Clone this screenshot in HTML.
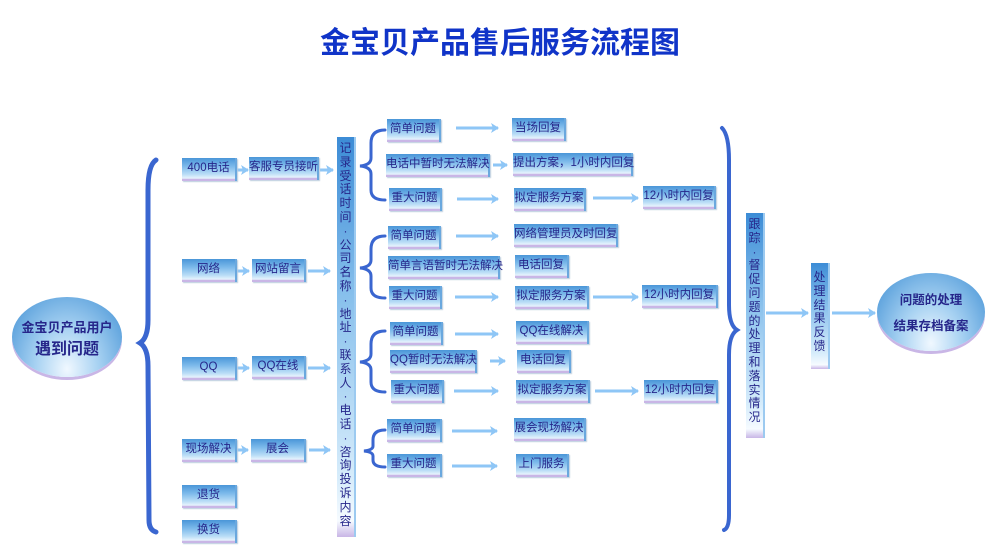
<!DOCTYPE html>
<html><head><meta charset="utf-8"><style>
body{margin:0;width:1000px;height:559px;background:#fff;position:relative;overflow:hidden;font-family:"Liberation Sans","Noto Sans CJK SC",sans-serif}
.t{position:absolute;left:0;top:18px;width:1000px;text-align:center;font-size:30px;font-weight:bold;color:#1034c8;font-family:"Liberation Sans","Noto Sans CJK SC",sans-serif}
.b{position:absolute;box-sizing:border-box;height:23px;background:linear-gradient(to bottom,#4a96d8 0%,#7ab8ea 35%,#b8dcf6 70%,#e6f3fd 88%,#c9b6e6 92%,#c9b6e6 100%);box-shadow:1px 1px 1px #bcd;color:#26268a;font-size:11.5px;line-height:21px;text-align:center;white-space:nowrap;border-right:2px solid #6aa8de}
.v{position:absolute;box-sizing:border-box;width:19px;background:linear-gradient(to bottom,#3c8cd6 0%,#88c0ec 40%,#d6ecfb 85%,#f6fbff 96%,#c9b6e6 100%);border-right:2px solid #9ccaf0;color:#26268a;font-size:12px;text-align:center;padding-top:5px;display:flex;flex-direction:column;align-items:center}
.v span{display:block;height:13.8px;line-height:13.8px;width:17px;text-align:center}
.e{position:absolute;border-radius:50%;background:radial-gradient(ellipse at 50% 90%,#f0f8ff 0%,#a8d2f2 40%,#3f8fd4 100%);box-shadow:0 3px 0 #c9b6e6;color:#26268a;font-weight:bold;text-align:center}
</style></head><body>
<div class="t">金宝贝产品售后服务流程图</div>
<svg width="1000" height="559" style="position:absolute;left:0;top:0">
<defs><marker id="a" markerWidth="8" markerHeight="10" refX="7" refY="5" orient="auto" markerUnits="userSpaceOnUse"><path d="M0,0 L8,5 L0,10 L2,5z" fill="#8ec6f6"/></marker></defs>
<g fill="none" stroke="#3a66d0" stroke-linecap="round">
<path d="M156,160 Q148,165 148,190 L148,320 Q148,338 140,343 Q148,348 148,366 L149,520 Q149,530 156,532" stroke-width="5"/>
<path d="M722,128 Q729,135 729,160 L729,305 Q729,325 737,330 Q729,335 729,355 L729,515 Q729,528 724,530" stroke-width="4"/>
<g stroke-width="3">
<path d="M385,130 Q371,130 371,143 L371,158 Q371,165 360,166 Q371,167 371,174 L371,190 Q371,200 385,200"/>
<path d="M385,236 Q371,236 371,249 L371,260 Q371,267 360,268 Q371,269 371,276 L371,288 Q371,298 385,298"/>
<path d="M385,331 Q371,331 371,344 L371,354 Q371,361 360,362 Q371,363 371,370 L371,382 Q371,392 385,392"/>
<path d="M385,430 Q373,430 373,440 L373,446 Q373,450 364,451 Q373,452 373,456 L373,460 Q373,467 385,467"/>
</g></g>
<g stroke="#8ec6f6" stroke-width="3" marker-end="url(#a)">
<line x1="237" y1="170" x2="248" y2="170"/><line x1="320" y1="170" x2="333" y2="170"/>
<line x1="237" y1="271" x2="249" y2="271"/><line x1="308" y1="271" x2="330" y2="271"/>
<line x1="237" y1="368" x2="249" y2="368"/><line x1="308" y1="368" x2="330" y2="368"/>
<line x1="237" y1="450" x2="248" y2="450"/><line x1="309" y1="450" x2="330" y2="450"/>
<line x1="456" y1="128" x2="498" y2="128"/><line x1="493" y1="165" x2="507" y2="165"/>
<line x1="457" y1="199" x2="498" y2="199"/><line x1="593" y1="198" x2="638" y2="198"/>
<line x1="456" y1="236" x2="498" y2="236"/>
<line x1="455" y1="297" x2="498" y2="297"/><line x1="593" y1="297" x2="638" y2="297"/>
<line x1="455" y1="334" x2="498" y2="334"/><line x1="490" y1="361" x2="505" y2="361"/>
<line x1="454" y1="391" x2="498" y2="391"/><line x1="595" y1="391" x2="638" y2="391"/>
<line x1="452" y1="431" x2="497" y2="431"/><line x1="452" y1="466" x2="497" y2="466"/>
<line x1="766" y1="313" x2="808" y2="313"/><line x1="832" y1="313" x2="875" y2="313"/>
</g></svg>

<div class="e" style="left:12px;top:297px;width:110px;height:80px;font-size:13px;padding-top:20px;box-sizing:border-box;line-height:22px">金宝贝产品用户<br><span style="font-size:16px">遇到问题</span></div>
<div class="e" style="left:877px;top:273px;width:108px;height:78px;font-size:12.5px;padding-top:14px;box-sizing:border-box;line-height:26px">问题的处理<br>结果存档备案</div>

<div class="b" style="left:182px;top:158px;width:55px">400电话</div>
<div class="b" style="left:249px;top:157px;width:70px">客服专员接听</div>
<div class="b" style="left:182px;top:259px;width:55px">网络</div>
<div class="b" style="left:252px;top:259px;width:54px">网站留言</div>
<div class="b" style="left:182px;top:357px;width:55px">QQ</div>
<div class="b" style="left:252px;top:356px;width:54px">QQ在线</div>
<div class="b" style="left:182px;top:439px;width:55px">现场解决</div>
<div class="b" style="left:251px;top:439px;width:55px">展会</div>
<div class="b" style="left:182px;top:485px;width:55px">退货</div>
<div class="b" style="left:182px;top:520px;width:55px">换货</div>

<div class="v" style="left:337px;top:137px;height:400px"><span>记</span><span>录</span><span>受</span><span>话</span><span>时</span><span>间</span><span>·</span><span>公</span><span>司</span><span>名</span><span>称</span><span>·</span><span>地</span><span>址</span><span>·</span><span>联</span><span>系</span><span>人</span><span>·</span><span>电</span><span>话</span><span>·</span><span>咨</span><span>询</span><span>投</span><span>诉</span><span>内</span><span>容</span></div>
<div class="v" style="left:746px;top:213px;height:225px"><span>跟</span><span>踪</span><span>·</span><span>督</span><span>促</span><span>问</span><span>题</span><span>的</span><span>处</span><span>理</span><span>和</span><span>落</span><span>实</span><span>情</span><span>况</span></div>
<div class="v" style="left:811px;top:263px;height:106px;padding-top:8px"><span>处</span><span>理</span><span>结</span><span>果</span><span>反</span><span>馈</span></div>

<div class="b" style="left:387px;top:119px;width:54px">简单问题</div>
<div class="b" style="left:386px;top:154px;width:104px">电话中暂时无法解决</div>
<div class="b" style="left:389px;top:188px;width:53px">重大问题</div>
<div class="b" style="left:388px;top:226px;width:53px">简单问题</div>
<div class="b" style="left:388px;top:256px;width:112px">简单言语暂时无法解决</div>
<div class="b" style="left:389px;top:286px;width:53px">重大问题</div>
<div class="b" style="left:390px;top:322px;width:53px">简单问题</div>
<div class="b" style="left:390px;top:350px;width:87px">QQ暂时无法解决</div>
<div class="b" style="left:391px;top:380px;width:53px">重大问题</div>
<div class="b" style="left:387px;top:419px;width:55px">简单问题</div>
<div class="b" style="left:387px;top:454px;width:55px">重大问题</div>

<div class="b" style="left:512px;top:118px;width:54px">当场回复</div>
<div class="b" style="left:513px;top:153px;width:120px">提出方案，1小时内回复</div>
<div class="b" style="left:514px;top:188px;width:72px">拟定服务方案</div>
<div class="b" style="left:514px;top:224px;width:104px">网络管理员及时回复</div>
<div class="b" style="left:515px;top:255px;width:54px">电话回复</div>
<div class="b" style="left:515px;top:286px;width:74px">拟定服务方案</div>
<div class="b" style="left:516px;top:321px;width:73px">QQ在线解决</div>
<div class="b" style="left:517px;top:350px;width:54px">电话回复</div>
<div class="b" style="left:516px;top:380px;width:74px">拟定服务方案</div>
<div class="b" style="left:514px;top:418px;width:72px">展会现场解决</div>
<div class="b" style="left:516px;top:454px;width:53px">上门服务</div>

<div class="b" style="left:643px;top:186px;width:73px">12小时内回复</div>
<div class="b" style="left:642px;top:285px;width:76px">12小时内回复</div>
<div class="b" style="left:644px;top:380px;width:74px">12小时内回复</div>
</body></html>
